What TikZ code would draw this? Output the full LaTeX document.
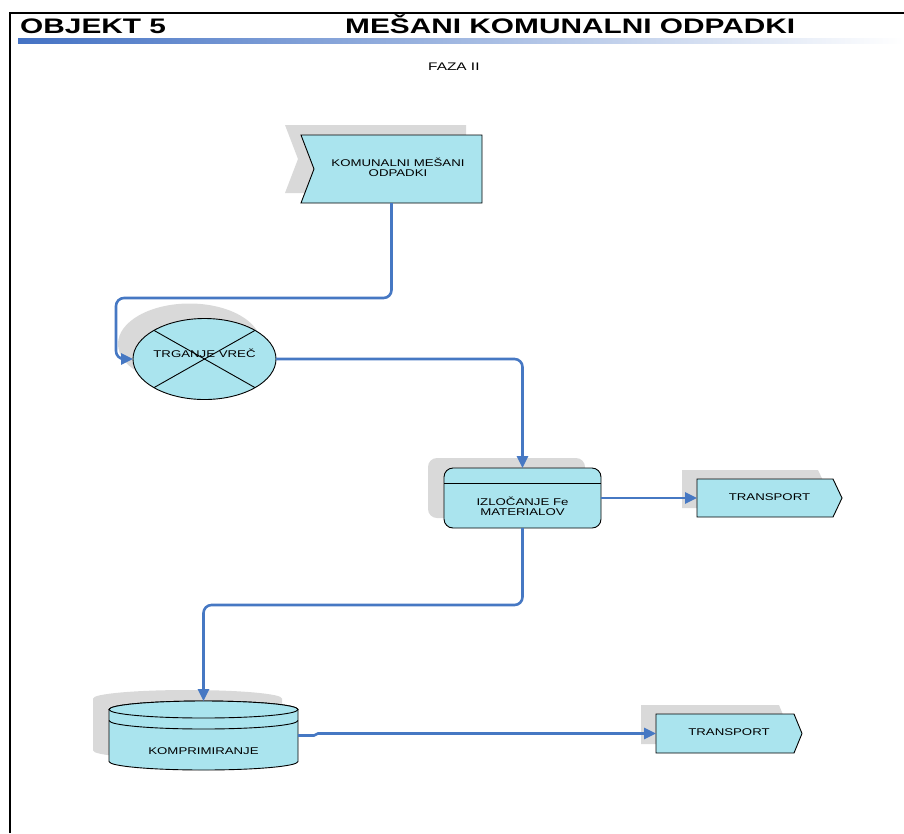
\documentclass[tikz,border=0pt]{standalone}
\usepackage{fontspec}
\setmainfont{Liberation Sans}
\usepackage{graphicx}
\usetikzlibrary{arrows.meta,shapes.geometric}
\definecolor{flowblue}{RGB}{70,120,195}
\definecolor{boxcyan}{RGB}{170,228,238}
\definecolor{shadowgray}{RGB}{217,217,217}
\definecolor{barblue}{RGB}{68,114,196}
\newcommand{\wide}[2][1.35]{\scalebox{#1}[1]{\begin{tabular}[b]{@{}c@{}}#2\end{tabular}}}
\tikzset{
    frame/.style={
        line width=2pt
    },
    headline/.style={
        font=\fontsize{21}{25}\selectfont\bfseries,
        inner sep=0pt
    },
    subhead/.style={
        font=\fontsize{11}{13}\selectfont,
        inner sep=0pt
    },
    box/.style={
        rectangle,
        inner sep=0pt,
        outer sep=0pt
    },
    boxfill/.style={
        fill=boxcyan,
        draw=black,
        line width=0.9pt
    },
    backshade/.style={
        fill=shadowgray,
        draw=none
    },
    txt/.style={
        font=\fontsize{9.8}{10.5}\selectfont,
        inner sep=0pt
    },
    flow/.style={
        draw=flowblue,
        line width=2.6pt,
        rounded corners=8,
        -{Triangle[length=12pt, width=11pt]}
    }
}
% arrow shaped box, pointing right
\newcommand{\tipbox}[5]{
    \draw [#5]
        ([shift={(#3,#4)}]#1.north west) --
        ([shift={(#3-#2,#4)}]#1.north east) --
        ([shift={(#3,#4)}]#1.east) --
        ([shift={(#3-#2,#4)}]#1.south east) --
        ([shift={(#3,#4)}]#1.south west) -- cycle;
}
% box with a notch on the left
\newcommand{\notchbox}[5]{
    \draw [#5]
        ([shift={(#3,#4)}]#1.north west) --
        ([shift={(#3,#4)}]#1.north east) --
        ([shift={(#3,#4)}]#1.south east) --
        ([shift={(#3,#4)}]#1.south west) --
        ([shift={(#3+#2,#4)}]#1.west) -- cycle;
}
% rounded box with a tab line on top
\newcommand{\tabbox}[4]{
    \draw [#4, rounded corners=9]
        ([shift={(#2,#3-15)}]#1.north west) rectangle
        ([shift={(#2,#3)}]#1.south east);
}
% drum outline
\newcommand{\drum}[4]{
    \draw [#4]
        ([shift={(#2,#3+8.5)}]#1.north west) --
        ([shift={(#2,#3-8.5)}]#1.south west)
        arc [start angle=180, end angle=360, x radius=94.5pt, y radius=8.5pt] --
        ([shift={(#2,#3+8.5)}]#1.north east)
        arc [start angle=0, end angle=180, x radius=94.5pt, y radius=8.5pt] -- cycle;
}

\begin{document}
\begin{tikzpicture}[x=1pt, y=-1pt]
    \useasboundingbox (0,0) rectangle (904,833);

    % heading
    \draw [frame] (10,833) -- (10,13) -- (904,13);
    \shade [left color=barblue, right color=white] (18,38) rectangle (904,43);
    \node [headline, anchor=base west] (objekt) at (20,33) {\wide[1.42]{OBJEKT 5}};
    \node [headline, anchor=base west] (naslov) at (345,33) {\wide[1.42]{MEŠANI KOMUNALNI ODPADKI}};
    \node [subhead, anchor=base west] (faza) at (428,70) {\wide[1.4]{FAZA II}};

    % places
    \node [box, minimum width=181, minimum height=68] (komunalni) at (391.5,169) {};
    \node [box, shape=ellipse, minimum width=143, minimum height=81] (trganje) at (204.5,359) {};
    \node [box, minimum width=157, minimum height=45] (izlocanje) at (522.5,505.5) {};
    \node [box, minimum width=145, minimum height=38] (transportA) at (769.5,498) {};
    \node [box, minimum width=189, minimum height=69] (komprimiranje) at (203.5,735.5) {};
    \node [box, minimum width=146, minimum height=39] (transportB) at (729,733.5) {};

    % shadows
    \notchbox{komunalni}{13}{-16}{-10}{backshade}
    \draw [backshade] ([shift={(-15,-15)}]trganje.center) ellipse [x radius=71.5pt, y radius=40.5pt];
    \tabbox{izlocanje}{-16}{-10}{backshade}
    \tipbox{transportA}{9}{-15}{-9}{backshade}
    \drum{komprimiranje}{-16}{-11}{backshade}
    \tipbox{transportB}{8}{-15}{-9}{backshade}

    % shapes
    \notchbox{komunalni}{13}{0}{0}{boxfill}
    \draw [boxfill] (trganje.center) ellipse [x radius=71.5pt, y radius=40.5pt];
    \draw [line width=0.9pt] (trganje.north west) -- (trganje.south east);
    \draw [line width=0.9pt] (trganje.north east) -- (trganje.south west);
    \tabbox{izlocanje}{0}{0}{boxfill}
    \draw [line width=0.9pt] (izlocanje.north west) -- (izlocanje.north east);
    \tipbox{transportA}{9}{0}{0}{boxfill}
    \drum{komprimiranje}{0}{0}{boxfill}
    \draw [boxfill] ([yshift=-8.5pt]komprimiranje.north) ellipse [x radius=94.5pt, y radius=8.5pt];
    \draw [line width=0.9pt] ([shift={(0,19.5)}]komprimiranje.north west)
        arc [start angle=180, end angle=360, x radius=94.5pt, y radius=8.5pt];
    \tipbox{transportB}{8}{0}{0}{boxfill}

    % texts
    \node [txt] (komunalni text) at ([xshift=6.5pt]komunalni.center) {\wide{KOMUNALNI MEŠANI\\ODPADKI}};
    \node [txt] (trganje text) at ([yshift=4pt]trganje.center) {\wide{TRGANJE VREČ}};
    \node [txt] (izlocanje text) at ([yshift=-2.5pt]izlocanje.center) {\wide{IZLOČANJE Fe\\MATERIALOV}};
    \node [txt] (transportA text) at (transportA.center) {\wide{TRANSPORT}};
    \node [txt] (komprimiranje text) at ([yshift=-16.5pt]komprimiranje.center) {\wide{KOMPRIMIRANJE}};
    \node [txt] (transportB text) at (transportB.center) {\wide{TRANSPORT}};

    % flow
    \draw [flow] (komunalni.south) -- ++(0,95) -| ([xshift=-17pt]trganje.west) -- (trganje.west);
    \draw [flow] (trganje.east) -| ([yshift=15pt]izlocanje.north);
    \draw [flow] (izlocanje.east |- transportA.west) -- (transportA.west);
    \draw [flow] (izlocanje.south) -- ++(0,77) -| (komprimiranje.north);
    \draw [flow, sharp corners] (komprimiranje.east) -- ++(16,0)
        -- ([xshift=20pt]komprimiranje.east |- transportB.west) -- (transportB.west);
\end{tikzpicture}
\end{document}
